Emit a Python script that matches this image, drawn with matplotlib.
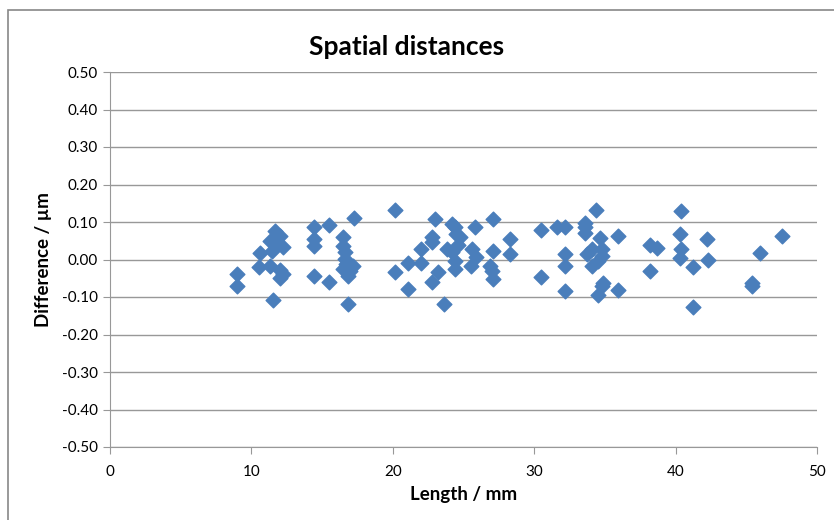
import matplotlib.pyplot as plt
from matplotlib.patches import Rectangle
from matplotlib.ticker import FormatStrFormatter

length_mm = [
    8.96, 8.96, 10.6, 10.56, 11.55, 11.67, 11.3, 12.0, 11.67, 11.43, 12.25, 11.3, 12.0, 12.25, 12.0,
    14.4, 14.4, 14.4, 14.4, 15.5, 15.5, 17.26, 16.5, 16.5, 16.6, 16.6, 16.7, 17.2, 16.5, 16.85, 17.0, 16.8,
    20.15, 20.15, 21.1, 21.1, 22.0, 22.0, 22.98, 22.75, 22.75, 23.2, 22.75, 23.6, 24.16, 23.8, 24.5, 24.4, 24.2,
    24.4, 24.75, 24.6, 25.8, 25.6, 25.9, 25.5, 24.4, 27.1, 27.1, 26.9, 27.0, 27.1, 28.3, 28.3,
    30.5, 30.5, 31.6, 32.2, 32.2, 32.2, 32.2, 33.6, 33.6, 33.6, 34.4, 34.65, 33.7, 34.06, 34.06, 34.5,
    34.5, 34.8, 35.9, 34.8, 34.8, 34.9, 35.9,
    40.4, 38.2, 38.7, 38.2, 40.3, 40.4, 40.3, 41.2, 41.2, 42.2, 42.3, 45.4, 45.4, 46.0, 47.5,
]
difference_um = [
    -0.039, -0.07, 0.017, -0.019, -0.109, 0.076, 0.05, 0.064, 0.042, 0.024, 0.034, -0.017, -0.028, -0.039, -0.048,
    0.086, 0.055, 0.037, -0.044, 0.093, -0.059, 0.111, 0.06, 0.037, 0.019, 0.001, -0.012, -0.017, -0.025, -0.044, -0.03, -0.118,
    0.133, -0.034, -0.008, -0.079, 0.028, -0.008, 0.108, 0.061, 0.046, -0.034, -0.06, -0.118, 0.094, 0.028, 0.069, -0.025, 0.019,
    0.086, 0.06, 0.04, 0.086, 0.028, 0.006, -0.017, -0.003, 0.108, 0.024, -0.017, -0.03, -0.052, 0.054, 0.014,
    0.08, -0.047, 0.086, 0.086, 0.014, -0.017, -0.084, 0.098, 0.086, 0.07, 0.131, 0.058, 0.014, 0.028, -0.017, -0.003,
    -0.094, -0.07, 0.064, 0.028, 0.01, -0.062, -0.08,
    0.13, 0.04, 0.031, -0.03, 0.067, 0.029, 0.005, -0.02, -0.127, 0.055, -0.002, -0.062, -0.07, 0.018, 0.062,
]

plt.rcParams['font.family'] = ['Lato', 'DejaVu Sans']

fig = plt.figure(figsize=(8.34, 5.2), dpi=100)
fig.patches.append(Rectangle((8 / 834, -0.1), 1.2, 1 - 10 / 520 + 0.1, transform=fig.transFigure,
                             fill=False, edgecolor='#888888', linewidth=1.2))
ax = fig.add_axes([110 / 834, 1 - 447 / 520, 707 / 834, 375 / 520])

ax.scatter(length_mm, difference_um, marker='D', s=56, color='#4A7EBB', edgecolors='#4A7EBB', zorder=3)

ax.set_xlim(0, 50)
ax.set_ylim(-0.5, 0.5)
ax.set_xticks(range(0, 51, 10))
ax.set_yticks([i / 10 for i in range(-5, 6)])
ax.yaxis.set_major_formatter(FormatStrFormatter('%.2f'))
ax.grid(axis='y', color='#989898', linewidth=1)
ax.set_axisbelow(True)
for s in ['top', 'right']:
    ax.spines[s].set_visible(False)
for s in ['left', 'bottom']:
    ax.spines[s].set_color('#989898')
ax.tick_params(axis='both', color='#989898', length=5, labelsize=11, labelcolor='#000000')
ax.tick_params(axis='x', pad=8)

ax.set_title('Spatial distances', fontsize=19, fontweight='bold', pad=12, x=0.42)
ax.set_xlabel('Length / mm', fontsize=13.5, fontweight='bold', labelpad=5)
ax.set_ylabel('Difference / µm', fontsize=13.5, fontweight='bold', labelpad=7)

fig.savefig('out.png', dpi=100)
